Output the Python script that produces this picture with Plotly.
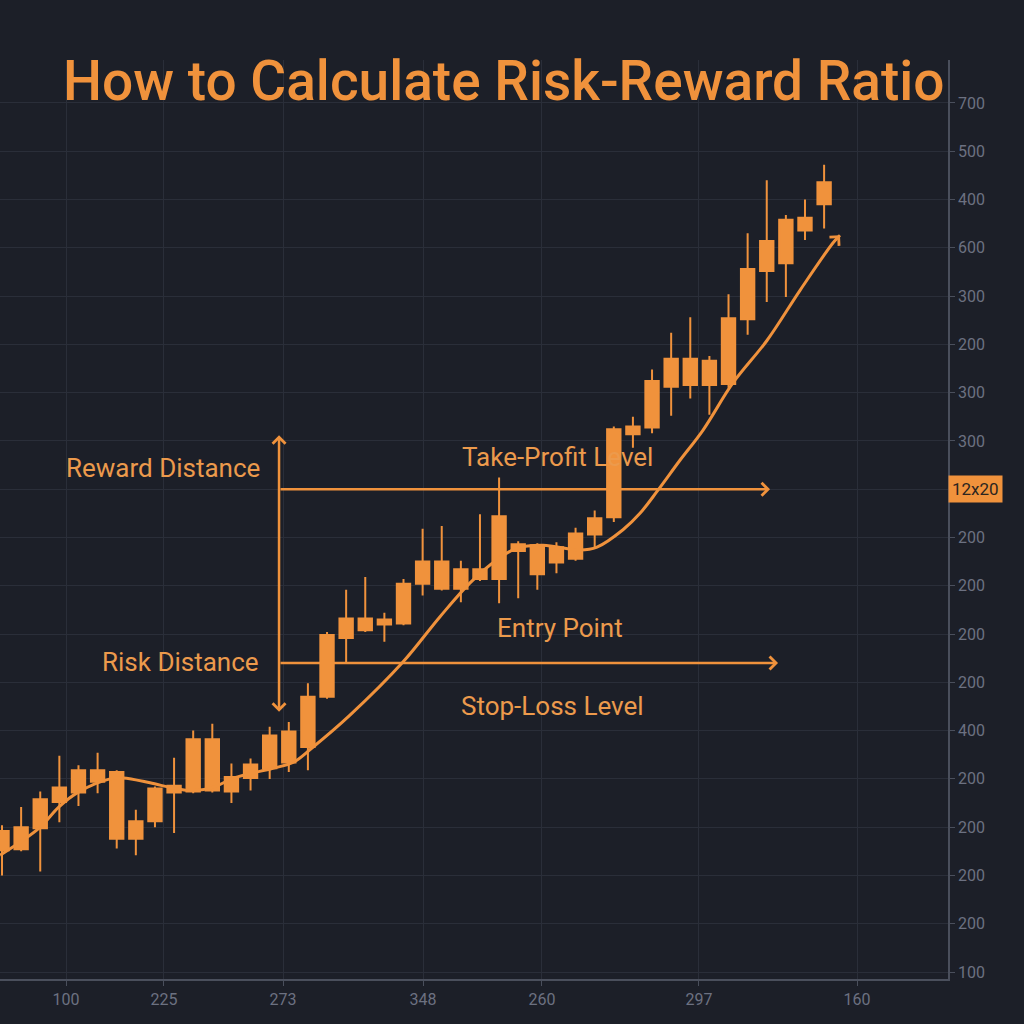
import plotly.graph_objects as go

# candle data (price units, one gridline = 50)
opens = [226, 227, 249, 276, 286, 297, 307, 256, 256, 286, 287, 341, 302, 301, 311, 317,
         333, 385, 446, 454, 460, 461, 502, 525, 517, 507, 507, 543, 542, 524, 528, 553,
         571, 657, 664, 706, 708, 733, 709, 776, 826, 879, 868, 895]
highs = [252, 271, 287, 324, 314, 327, 309, 268, 292, 322, 350, 357, 316, 321, 354, 359,
         399, 452, 496, 509, 472, 507, 559, 562, 526, 574, 612, 546, 544, 545, 560, 578,
         665, 675, 724, 762, 778, 738, 802, 865, 920, 884, 900, 936]
lows = [200, 225, 204, 255, 272, 285, 228, 221, 250, 244, 285, 286, 275, 288, 300, 307,
        309, 383, 421, 452, 442, 459, 490, 495, 483, 505, 482, 487, 496, 513, 526, 539,
        566, 643, 658, 676, 694, 677, 705, 760, 794, 799, 858, 870]
closes = [246, 250, 279, 291, 309, 309, 238, 238, 290, 293, 341, 288, 287, 315, 345, 349,
          385, 449, 466, 466, 465, 502, 525, 497, 497, 517, 572, 536, 512, 540, 554, 570,
          662, 665, 712, 735, 735, 708, 777, 828, 857, 834, 881, 918]
candle_x = list(range(len(opens)))

# smoothed trend line
trend_x = [-0.1, 1.94, 2.98, 3.97, 5.65, 6.33, 7.74, 9.05, 10.1, 11.14, 12.13, 14.17, 15.22,
           16.21, 18.2, 20.97, 22.91, 24.48, 25.89, 26.94, 28.3, 30.23, 31.12, 32.48, 33.37,
           34.31, 35.46, 36.66, 38.23, 40.01, 41.74, 43.46, 43.83]
trend_y = [221, 249, 271, 286, 300, 301, 296, 290, 288, 292, 301, 311, 317, 332, 366, 421,
           468, 503, 527, 539, 542, 537, 540, 558, 575, 599, 630, 661, 710, 754, 806, 855, 863]

# levels
take_profit = 600
entry_level = 420
arrow_x0 = 14.49
tp_end = 40.17
entry_end = 40.59
dist_top = 656
dist_bottom = 368

# axis ticks
x_tickvals = [3.35, 8.47, 14.70, 22.02, 28.24, 36.45, 44.72]
x_ticktext = ["100", "225", "273", "348", "260", "297", "160"]
y_tickvals = [100 + 50 * i for i in range(19)]
y_ticktext = ["100", "200", "200", "200", "200", "400", "200", "200", "200", "200", "",
              "300", "300", "200", "300", "600", "400", "500", "700"]

ORANGE = "#f0923c"
TEXT_OR = "#ec9a4c"
BG = "#1c1f28"
GRID = "#2a2e39"
AXIS = "#4a4f5c"
TICK = "#6c7181"

fig = go.Figure()

fig.add_trace(go.Candlestick(
    x=candle_x, open=opens, high=highs, low=lows, close=closes,
    increasing=dict(line=dict(color=ORANGE, width=2), fillcolor=ORANGE),
    decreasing=dict(line=dict(color=ORANGE, width=2), fillcolor=ORANGE),
    whiskerwidth=0, hoverinfo="skip",
))

fig.add_trace(go.Scatter(
    x=trend_x, y=trend_y, mode="lines",
    line=dict(color=ORANGE, width=3, shape="spline", smoothing=1.0),
    hoverinfo="skip",
))

arrow_common = dict(showarrow=True, text="", axref="x", ayref="y", xref="x", yref="y",
                    arrowhead=4, arrowsize=1, arrowwidth=2.5, arrowcolor=ORANGE, standoff=0)

fig.add_annotation(x=tp_end, y=take_profit, ax=arrow_x0, ay=take_profit, **arrow_common)
fig.add_annotation(x=entry_end, y=entry_level, ax=arrow_x0, ay=entry_level, **arrow_common)
fig.add_annotation(x=arrow_x0, y=dist_top, ax=arrow_x0, ay=dist_bottom,
                   arrowside="end+start", **arrow_common)
fig.add_annotation(x=trend_x[-1], y=trend_y[-1], ax=trend_x[-2], ay=trend_y[-2], **arrow_common)

label_font = dict(family="Roboto", size=26, color=TEXT_OR)
fig.add_annotation(x=13.6, y=622, text="Reward Distance", showarrow=False,
                   xanchor="right", font=label_font)
fig.add_annotation(x=13.55, y=421, text="Risk Distance", showarrow=False,
                   xanchor="right", font=label_font)
fig.add_annotation(x=29.03, y=633, text="Take-Profit Level", showarrow=False, font=label_font)
fig.add_annotation(x=29.18, y=456, text="Entry Point", showarrow=False, font=label_font)
fig.add_annotation(x=28.77, y=375, text="Stop-Loss Level", showarrow=False, font=label_font)

# highlighted price tag on the right axis
fig.add_annotation(x=1.0, xref="paper", y=take_profit, yref="y", text="12x20",
                   showarrow=False, xanchor="left", bgcolor=ORANGE, borderpad=3,
                   font=dict(family="Roboto", size=17, color="#2b2520"))

fig.update_layout(
    width=1024, height=1024,
    paper_bgcolor=BG, plot_bgcolor=BG,
    margin=dict(l=0, r=76, t=60, b=45),
    showlegend=False,
    title=dict(text="How to Calculate Risk-Reward Ratio", xref="container", yref="container",
               x=0.492, y=0.921, xanchor="center", yanchor="middle",
               font=dict(family="Roboto", size=55, color=ORANGE, weight=500)),
    boxgap=0.3, boxgroupgap=0,
)

fig.update_xaxes(
    range=[-0.105, 49.48], rangeslider=dict(visible=False),
    tickvals=x_tickvals, ticktext=x_ticktext,
    showgrid=True, gridcolor=GRID, gridwidth=1, zeroline=False,
    showline=True, linecolor=AXIS, linewidth=1.5,
    ticks="outside", ticklen=5, tickcolor=AXIS,
    tickfont=dict(family="Roboto", size=16, color=TICK),
)
fig.update_yaxes(
    range=[92.75, 1044.5], side="right",
    tickvals=y_tickvals, ticktext=y_ticktext,
    showgrid=True, gridcolor=GRID, gridwidth=1, zeroline=False,
    showline=True, linecolor=AXIS, linewidth=1.5,
    ticks="outside", ticklen=5, tickcolor=AXIS,
    tickfont=dict(family="Roboto", size=16, color=TICK),
)

fig.write_html("out.html", config={"displayModeBar": False},
               post_script="document.body.style.margin='0';")
